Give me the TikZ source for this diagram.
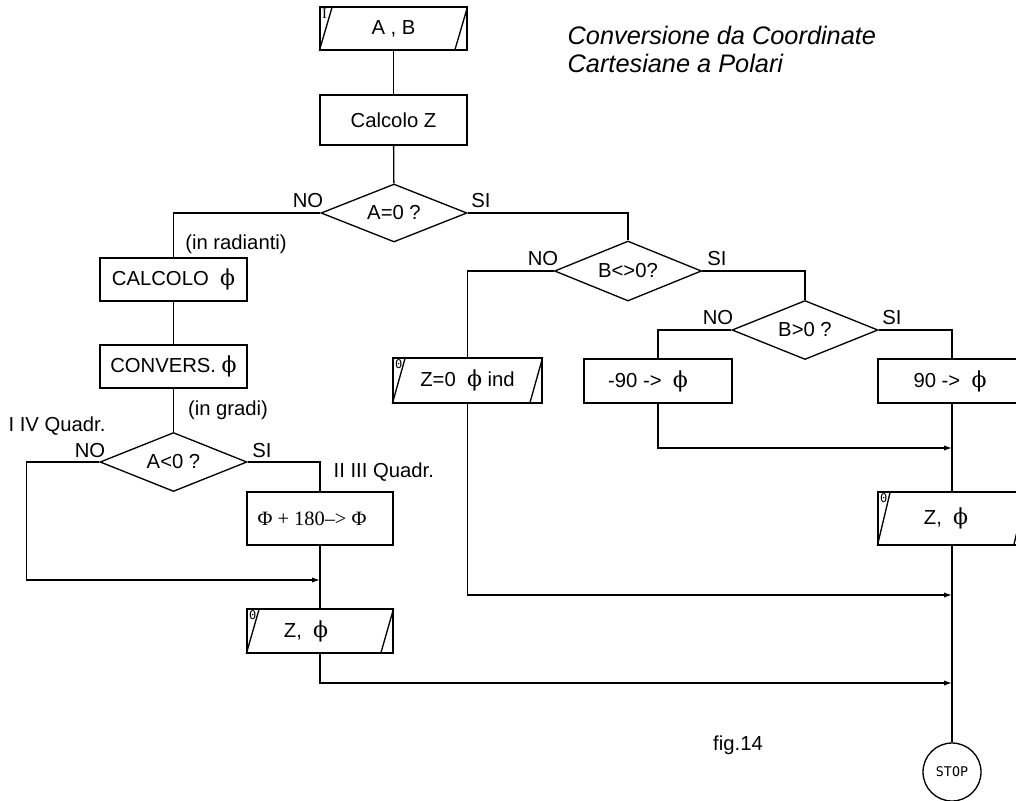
\documentclass[tikz,border=0pt]{standalone}
\usepackage{fontspec}
\setmainfont{Liberation Sans}
\newfontfamily\serifph{DejaVu Serif}
\newfontfamily\timesf{Liberation Serif}
\newfontfamily\monof{DejaVu Sans Mono}
\usetikzlibrary{shapes.geometric,arrows.meta,calc}
\newcommand{\ph}{{\serifph\fontsize{16.5}{17}\selectfont ϕ}}
\newcommand{\ioslants}[1]{\draw (#1.south west) -- ($(#1.north west)+(13,0)$); \draw ($(#1.south east)+(-13,0)$) -- (#1.north east);}
\begin{document}
\begin{tikzpicture}[x=0.75pt,y=-0.75pt,
  font=\fontsize{15.2}{17}\selectfont, line width=1pt,
  box/.style={draw, rectangle, inner sep=0pt},
  dec/.style={draw, diamond, aspect=2.5, inner sep=0pt},
  arr/.style={-{Latex[length=6pt,width=4pt]}},
  lbl/.style={inner sep=0pt},
  corn/.style={inner sep=1.5pt, anchor=north west, font=\monof\fontsize{9}{9}\selectfont}]
\clip (0,0) rectangle (1016,800);
\fill[white] (0,0) rectangle (1016,800);

% title
\node[lbl, anchor=base west, font=\itshape\fontsize{19}{21}\selectfont] (t1) at (567,44) {Conversione da Coordinate};
\node[lbl, anchor=base west, font=\itshape\fontsize{19}{21}\selectfont] (t2) at (567,72) {Cartesiane a Polari};

% main column
\node[box, minimum width=110.25pt, minimum height=32.25pt] (in1) at (393.5,28.5) {A , B};
\ioslants{in1}
\node[inner sep=1.5pt, anchor=north west, font=\timesf\fontsize{11}{11}\selectfont] (in1c) at (in1.north west) {I};
\node[box, minimum width=110.25pt, minimum height=37.5pt] (calc) at (393.5,120) {Calcolo Z};
\node[dec, minimum width=109.5pt, minimum height=43.5pt] (d1) at (394,213) {A=0 ?};

% left branch
\node[box, minimum width=110.25pt, minimum height=32.25pt] (calcphi) at (173.5,279.5) {CALCOLO \ \ph};
\node[box, minimum width=110.25pt, minimum height=32.25pt] (conv) at (173.5,366.5) {CONVERS. \ph};
\node[dec, minimum width=110.25pt, minimum height=44.25pt] (d3) at (173.5,462) {A<0 ?};
\node[box, minimum width=109.5pt, minimum height=39.75pt] (add) at (320,518.5) {};
\node[lbl, font=\timesf\fontsize{15.3}{17}\selectfont] (addt) at (312,518.5) {Φ + 180–> Φ};
\node[box, minimum width=109.5pt, minimum height=33pt] (out2) at (320,631) {};
\ioslants{out2}
\node[corn] (out2c) at (out2.north west) {0};
\node[lbl] (out2t) at (306,631) {Z, \ \ph};

% right branch
\node[dec, minimum width=110.25pt, minimum height=45pt] (d2) at (628,271) {B<>0?};
\node[box, minimum width=111.75pt, minimum height=33.75pt] (zind) at (467.5,380.5) {Z=0 \ \ph\ ind};
\ioslants{zind}
\node[corn] (zindc) at (zind.north west) {0};
\node[dec, minimum width=109.5pt, minimum height=44.25pt] (d4) at (805,330) {B>0 ?};
\node[box, minimum width=111pt, minimum height=33pt] (m90) at (658,381) {};
\node[lbl] (m90t) at (648,381) {-90 -> \ \ph};
\node[box, minimum width=111pt, minimum height=33pt] (p90) at (952,381) {};
\node[lbl] (p90t) at (950,381) {90 -> \ \ph};
\node[box, minimum width=111pt, minimum height=39.75pt] (out1) at (952,518.5) {};
\ioslants{out1}
\node[corn] (out1c) at (out1.north west) {0};
\node[lbl] (out1t) at (946,518.5) {Z, \ \ph};
\node[draw, circle, minimum size=43.5pt, inner sep=0pt, font=\monof\fontsize{10}{10}\selectfont] (stop) at (952,772) {STOP};

% join coordinates
\coordinate (j0) at (952,448);
\coordinate (j1) at (320,580);
\coordinate (j2) at (952,595);
\coordinate (j3) at (952,683);

% connectors
\draw (in1) -- (calc);
\draw (calc) -- (d1);
\draw (d1.west) -| (calcphi.north);
\draw (d1.east) -| (d2.north);
\draw (calcphi) -- (conv);
\draw (conv) -- (d3);
\draw[arr] (d3.west) -- ++(-73,0) |- (j1);
\draw (d3.east) -| (add.north);
\draw (add) -- (out2);
\draw[arr] (out2.south) |- (j3);
\draw (d2.west) -| (zind.north);
\draw[arr] (zind.south) |- (j2);
\draw (d2.east) -| (d4.north);
\draw (d4.west) -| (m90.north);
\draw (d4.east) -| (p90.north);
\draw[arr] (m90.south) |- (j0);
\draw (p90) -- (out1);
\draw (out1) -- (stop);

% labels
\node[lbl] (l1) at (308,201) {NO};
\node[lbl] (l2) at (481,201) {SI};
\node[lbl] (l3) at (236,244) {(in radianti)};
\node[lbl] (l4) at (228,410) {(in gradi)};
\node[lbl] (l5) at (57,426) {I IV Quadr.};
\node[lbl] (l6) at (90,451) {NO};
\node[lbl] (l7) at (262,451) {SI};
\node[lbl, anchor=west] (l8) at (333,472) {II III Quadr.};
\node[lbl] (l9) at (543,259) {NO};
\node[lbl] (l10) at (717,259) {SI};
\node[lbl] (l11) at (718,318) {NO};
\node[lbl] (l12) at (892,318) {SI};
\node[lbl] (fig) at (738,745) {fig.14};
\end{tikzpicture}
\end{document}
